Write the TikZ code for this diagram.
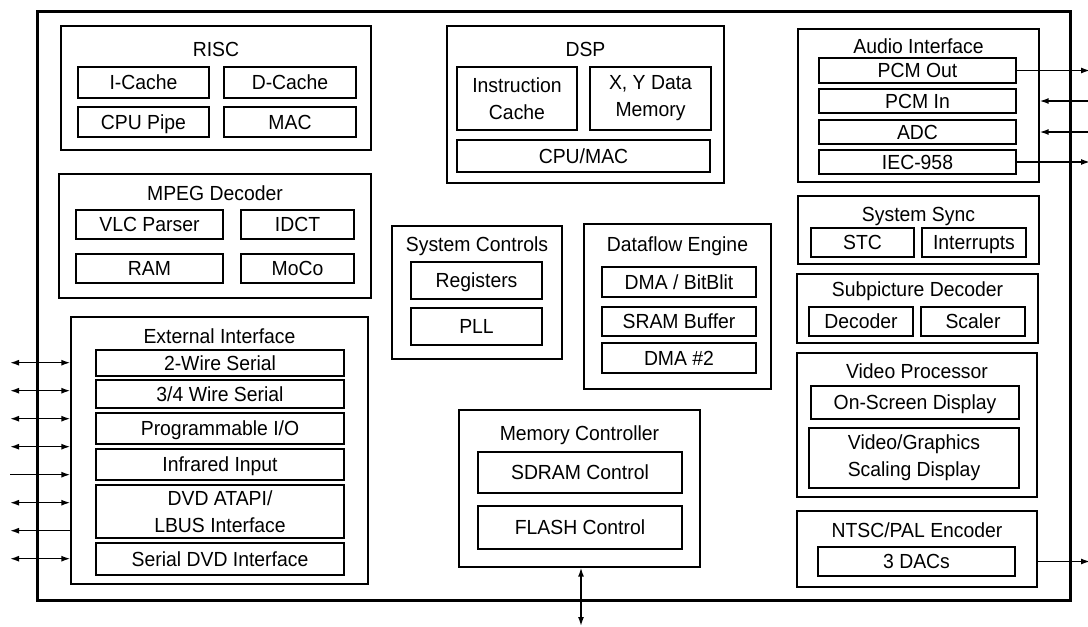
\documentclass[tikz,border=0pt]{standalone}
\usepackage{fontspec}
\setmainfont{Liberation Sans}[FakeStretch=0.95]
\usetikzlibrary{fit,arrows.meta}

\tikzset{
  chip/.style={draw, line width=1.5pt, inner sep=0pt},
  unit/.style={draw, line width=0.65pt, inner sep=0pt},
  part/.style={draw, line width=0.65pt, inner sep=0pt, text height=7.3pt, text depth=0pt},
  parttwo/.style={draw, line width=0.65pt, inner sep=0pt, align=center},
  sz/.style 2 args={minimum width=#1*0.5pt, minimum height=#2*0.5pt},
  title/.style={inner sep=0pt, anchor=base},
  pinboth/.style={line width=0.75pt, {Latex[length=4.5pt,width=3pt]}-{Latex[length=4.5pt,width=3pt]}},
  pinout/.style={line width=0.75pt, -{Latex[length=4.5pt,width=3pt]}},
}

\begin{document}
\begin{tikzpicture}[x=0.5pt,y=-0.5pt,font=\fontsize{10.2pt}{13.5pt}\selectfont]
  \useasboundingbox (0,0) rectangle (1088,627);
  \node[chip, fit={(37,11) (1070,600)}] (chip) {};

  % RISC
  \node[unit, fit={(61,26) (371,150)}] (risc) {};
  \node[title] (risct) at (216,56.5) {RISC};
  \node[part, sz={131}{31}] (icache) at (143.5,82.5) {I-Cache};
  \node[part, sz={132}{31}] (dcache) at (290,82.5) {D-Cache};
  \node[part, sz={131}{30}] (cpupipe) at (143.5,122) {CPU Pipe};
  \node[part, sz={132}{30}] (mac) at (290,122) {MAC};

  % MPEG decoder
  \node[unit, fit={(59,174) (371,298)}] (mpeg) {};
  \node[title] (mpegt) at (215,200) {MPEG Decoder};
  \node[part, sz={147}{29}] (vlc) at (149.5,224.5) {VLC Parser};
  \node[part, sz={113}{29}] (idct) at (297.5,224.5) {IDCT};
  \node[part, sz={147}{29}] (ram) at (149.5,268.5) {RAM};
  \node[part, sz={113}{29}] (moco) at (297.5,268.5) {MoCo};

  % external interface
  \node[unit, fit={(71,317) (368,584)}] (ext) {};
  \node[title] (extt) at (219.5,343) {External Interface};
  \node[part, sz={248}{26}] (twowire) at (220,363) {2-Wire Serial};
  \node[part, sz={248}{28}] (fourwire) at (220,394) {3/4 Wire Serial};
  \node[part, sz={248}{31}] (pio) at (220,428.5) {Programmable I/O};
  \node[part, sz={248}{31}] (irin) at (220,464.5) {Infrared Input};
  \node[parttwo, sz={248}{53}] (atapi) at (220,511.5) {DVD ATAPI/\\LBUS Interface};
  \node[part, sz={248}{32}] (sdvd) at (220,559) {Serial DVD Interface};

  \foreach \i/\y/\kind in {1/362.7/pinboth, 2/390.7/pinboth, 3/418.7/pinboth,
      4/446.7/pinboth, 5/474.7/pinout, 6/502.7/pinboth, 8/558.7/pinboth} {
    \coordinate (pin\i) at (10,\y);
    \draw[\kind] (pin\i) -- (pin\i -| ext.west);
  }
  \coordinate (pin7) at (10,530.7);
  \draw[pinout] (pin7 -| ext.west) -- (pin7);

  % DSP
  \node[unit, fit={(447,26) (724,183)}] (dsp) {};
  \node[title] (dspt) at (585.5,56) {DSP};
  \node[parttwo, sz={120}{63}] (icdsp) at (517,98.5) {Instruction\\Cache};
  \node[parttwo, sz={121}{63}] (xydata) at (650.5,98.5) {X, Y Data\\Memory};
  \node[part, sz={253}{32}] (cpumac) at (583.5,156) {CPU/MAC};

  % system controls
  \node[unit, fit={(392,226) (562,359)}] (sysctl) {};
  \node[title] (sysctlt) at (477,251.5) {System Controls};
  \node[part, sz={131}{37}] (regs) at (476.5,280.5) {Registers};
  \node[part, sz={131}{37}] (pll) at (476.5,326.5) {PLL};

  % dataflow engine
  \node[unit, fit={(584,224) (771,389)}] (dflow) {};
  \node[title] (dflowt) at (677.5,251.7) {Dataflow Engine};
  \node[part, sz={154}{30}] (dma) at (679,282) {DMA / BitBlit};
  \node[part, sz={154}{29}] (sram) at (679,321.5) {SRAM Buffer};
  \node[part, sz={154}{30}] (dmatwo) at (679,358) {DMA \#2};

  % memory controller
  \node[unit, fit={(459,410) (700,567)}] (mem) {};
  \node[title] (memt) at (579.5,440.5) {Memory Controller};
  \node[part, sz={204}{41}] (sdram) at (580,472.5) {SDRAM Control};
  \node[part, sz={204}{43}] (flash) at (580,527.5) {FLASH Control};
  \coordinate (membus) at (581,626);
  \draw[pinboth] (mem.south -| membus) -- (membus);

  % audio interface
  \node[unit, fit={(798,29) (1039,182)}] (audio) {};
  \node[title] (audiot) at (918.5,53.3) {Audio Interface};
  \node[part, sz={197}{25}] (pcmout) at (917.5,70.5) {PCM Out};
  \node[part, sz={197}{24}] (pcmin) at (917.5,101) {PCM In};
  \node[part, sz={197}{24}] (adc) at (917.5,132) {ADC};
  \node[part, sz={197}{24}] (iec) at (917.5,162) {IEC-958};
  \coordinate (edge) at (1090,0);
  \draw[pinout] (pcmout.east) -- (pcmout.east -| edge);
  \draw[pinout] (pcmin -| edge) -- (pcmin -| audio.east);
  \draw[pinout] (adc -| edge) -- (adc -| audio.east);
  \draw[pinout] (iec.east) -- (iec.east -| edge);

  % system sync
  \node[unit, fit={(798,196) (1039,264)}] (sync) {};
  \node[title] (synct) at (918.5,221.7) {System Sync};
  \node[part, sz={103}{29}] (stc) at (862.5,242.5) {STC};
  \node[part, sz={104}{29}] (irq) at (974,242.5) {Interrupts};

  % subpicture decoder
  \node[unit, fit={(797,274) (1038,343)}] (subpic) {};
  \node[title] (subpict) at (917.5,296.5) {Subpicture Decoder};
  \node[part, sz={104}{29}] (spdec) at (861,321.5) {Decoder};
  \node[part, sz={104}{29}] (scaler) at (973,321.5) {Scaler};

  % video processor
  \node[unit, fit={(797,353) (1037,497)}] (video) {};
  \node[title] (videot) at (917,378.3) {Video Processor};
  \node[part, sz={208}{33}] (osd) at (915,402.5) {On-Screen Display};
  \node[parttwo, sz={210}{60}] (vgs) at (914,458) {Video/Graphics\\Scaling Display};

  % encoder
  \node[unit, fit={(797,511) (1037,587)}] (ntsc) {};
  \node[title] (ntsct) at (917,537.3) {NTSC/PAL Encoder};
  \node[part, sz={197}{29}] (dacs) at (916.5,561.5) {3 DACs};
  \draw[pinout] (dacs -| ntsc.east) -- (dacs -| edge);
\end{tikzpicture}
\end{document}
